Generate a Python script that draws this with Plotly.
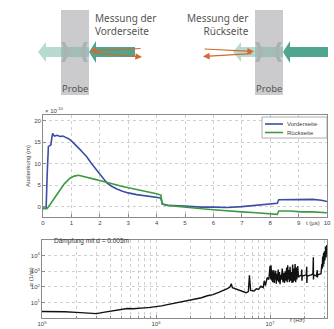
import plotly.graph_objects as go

# ---------------- data ----------------
t_vorder = [0, 0.11, 0.15, 0.19, 0.24, 0.28, 0.31, 0.34, 0.40, 0.50, 0.60, 0.70, 0.80, 0.90,
            1.00, 1.10, 1.20, 1.30, 1.40, 1.54, 1.70, 1.85, 2.00, 2.12, 2.25, 2.40, 2.60,
            2.80, 3.00, 3.30, 3.60, 3.90, 4.15, 4.20, 4.40, 4.80, 5.20, 5.60, 6.00, 6.50,
            7.00, 7.50, 8.00, 8.25, 8.30, 8.70, 9.10, 9.50, 9.80, 10.0]
v_vorder = [-0.4, -0.4, 8.0, 14.0, 14.2, 14.4, 16.0, 17.0, 16.4, 16.6, 16.3, 16.4, 16.1, 15.8,
            15.3, 14.7, 14.0, 13.3, 12.6, 11.6, 10.1, 8.8, 7.5, 6.5, 5.5, 4.8, 4.1,
            3.6, 3.2, 2.8, 2.5, 2.2, 2.0, 0.6, 0.3, 0.2, 0.0, -0.1, -0.1, -0.2,
            0.0, 0.3, 0.7, 0.8, 1.6, 1.6, 1.7, 1.7, 1.5, 1.2]

t_rueck = [0, 0.15, 0.25, 0.35, 0.48, 0.60, 0.75, 0.95, 1.10, 1.25, 1.40, 1.60, 1.80, 2.00,
           2.25, 2.50, 2.80, 3.10, 3.50, 3.80, 4.00, 4.15, 4.20, 4.40, 4.80, 5.20, 5.60, 6.00,
           6.50, 7.00, 7.50, 8.00, 8.25, 8.30, 8.70, 9.10, 9.50, 10.0]
v_rueck = [-0.4, -0.4, 0.5, 1.5, 2.7, 3.9, 5.3, 6.6, 7.1, 7.3, 7.1, 6.8, 6.4, 6.1,
           5.6, 5.2, 4.7, 4.3, 3.7, 3.3, 3.0, 2.7, 0.6, 0.3, 0.0, -0.3, -0.5, -0.7,
           -1.0, -1.2, -1.4, -1.6, -1.8, -1.0, -1.0, -1.2, -1.2, -1.4]

freq = [1.0e5, 1.26e5, 1.58e5, 2.0e5, 2.5e5, 3.0e5, 3.55e5, 4.2e5, 5.0e5, 5.6e5, 6.3e5,
        7.1e5, 7.9e5, 8.9e5, 1.0e6, 1.12e6, 1.26e6, 1.41e6, 1.58e6, 1.78e6, 2.0e6, 2.24e6,
        2.51e6, 2.82e6, 3.16e6, 3.55e6, 3.8e6, 3.98e6, 4.27e6, 4.47e6, 4.57e6, 4.68e6,
        5.0e6, 5.37e6, 5.75e6, 6.17e6, 6.46e6, 6.6e6, 6.76e6, 7.24e6, 7.59e6, 7.94e6,
        8.32e6, 8.71e6, 8.91e6, 9.12e6, 9.44e6, 9.77e6,
        1.000e7, 1.005e7, 1.010e7, 1.015e7, 1.020e7, 1.025e7, 1.030e7, 1.040e7, 1.045e7,
        1.055e7, 1.060e7, 1.070e7, 1.080e7, 1.090e7, 1.100e7, 1.110e7, 1.120e7, 1.135e7,
        1.150e7, 1.165e7, 1.180e7, 1.195e7, 1.210e7, 1.225e7, 1.240e7, 1.260e7, 1.280e7,
        1.300e7, 1.320e7, 1.340e7, 1.360e7, 1.380e7, 1.400e7, 1.415e7, 1.430e7, 1.445e7,
        1.460e7, 1.480e7, 1.500e7, 1.520e7, 1.540e7, 1.560e7, 1.580e7, 1.600e7, 1.620e7,
        1.640e7, 1.660e7, 1.680e7, 1.700e7, 1.720e7, 1.750e7, 1.780e7, 1.800e7, 1.880e7,
        1.900e7, 1.905e7, 1.920e7, 2.000e7, 2.080e7, 2.100e7, 2.105e7, 2.120e7, 2.300e7,
        2.380e7, 2.400e7, 2.405e7, 2.420e7, 2.550e7, 2.600e7, 2.605e7, 2.620e7, 2.800e7,
        2.850e7, 2.870e7, 2.900e7, 2.920e7, 2.950e7, 2.970e7, 3.000e7, 3.030e7, 3.080e7,
        3.100e7, 3.150e7]
alpha = [2.6, 2.6, 2.5, 2.3, 2.0, 1.9, 2.4, 3.0, 3.6, 4.1, 3.9,
         4.0, 4.5, 4.8, 5.3, 6.0, 7.3, 8.5, 10, 11.5, 14, 17,
         20, 27, 32, 45, 55, 60, 80, 100, 160, 90,
         75, 55, 48, 42, 50, 550, 60, 55, 75, 70,
         110, 90, 250, 120, 400, 300,
         2200, 400, 1800, 300, 2500, 500, 1500, 250, 1200,
         200, 900, 350, 1200, 180, 800, 300, 1100, 160,
         700, 250, 1300, 200, 900, 150, 600, 300, 1500,
         200, 800, 180, 1000, 250, 1800, 200, 2500, 300,
         1200, 200, 2000, 250, 900, 180, 2800, 200, 1500,
         250, 3000, 200, 1800, 300, 2200, 400, 500, 550,
         1300, 250, 500, 550, 600, 2000, 180, 500, 600,
         700, 8000, 300, 600, 500, 1200, 400, 600, 700,
         3000, 1500, 9000, 2000, 15000, 3000, 20000, 5000, 40000,
         8000, 50000]

x_ticks_t = [0, 1, 2, 3, 4, 5, 6, 7, 8, 9, 10]
y_ticks_a = [0, 5, 10, 15, 20]
y_ticks_alpha = [10, 100, 1000, 10000]
y_ticktext_alpha = ["10<sup>1</sup>", "10<sup>2</sup>", "10<sup>3</sup>", "10<sup>4</sup>"]
x_ticks_f = [1e5, 1e6, 1e7]
x_ticktext_f = ["10<sup>5</sup>", "10<sup>6</sup>", "10<sup>7</sup>"]

# ---------------- figure ----------------
W, H = 334, 329
def px(x):
    return x / W
def py(y):
    return 1 - y / H

FONT = "Liberation Sans"
GRID = "#d0d0d0"
LINE = "#8a8a8a"
TXT = "#444444"
BLUE = "#3b4ea6"
GREEN = "#3e9a40"

fig = go.Figure()
fig.add_trace(go.Scatter(x=t_vorder, y=v_vorder, mode="lines", name="Vorderseite",
                         line=dict(color=BLUE, width=1.6), xaxis="x", yaxis="y"))
fig.add_trace(go.Scatter(x=t_rueck, y=v_rueck, mode="lines", name="Rückseite",
                         line=dict(color=GREEN, width=1.6), xaxis="x", yaxis="y"))
fig.add_trace(go.Scatter(x=freq, y=alpha, mode="lines", name="alpha",
                         line=dict(color="#111111", width=1.4), xaxis="x2", yaxis="y2"))

common = dict(showline=True, mirror=True, linecolor=LINE, linewidth=0.8,
              ticks="inside", ticklen=3, tickcolor=LINE, tickwidth=0.8,
              showgrid=True, gridcolor=GRID, griddash="dot", gridwidth=0.8,
              zeroline=False, automargin=False,
              tickfont=dict(family=FONT, size=6, color=TXT))

fig.update_layout(
    template="none",
    width=W, height=H, margin=dict(l=0, r=0, t=0, b=0, autoexpand=False),
    paper_bgcolor="white", plot_bgcolor="white", showlegend=False,
    xaxis=dict(domain=[px(43), px(327)], range=[0, 10], anchor="y",
               tickvals=x_ticks_t, **common),
    yaxis=dict(domain=[py(217), py(115)], range=[-2.4, 21.3], anchor="x",
               tickvals=y_ticks_a, **common),
    xaxis2=dict(domain=[px(42), px(327)], type="log", range=[5, 7.5], anchor="y2",
                tickvals=x_ticks_f, ticktext=x_ticktext_f,
                minor=dict(dtick="D1", showgrid=True, gridcolor=GRID, griddash="dot",
                           gridwidth=0.7, ticks="inside", ticklen=2, tickcolor=LINE),
                **common),
    yaxis2=dict(domain=[py(318), py(240)], type="log", range=[0, 5.02], anchor="x2",
                tickvals=y_ticks_alpha, ticktext=y_ticktext_alpha, **common),
    xaxis3=dict(domain=[0, 1], range=[0, W], visible=False, anchor="y3", fixedrange=True),
    yaxis3=dict(domain=[py(95), 1], range=[95, 0], visible=False, anchor="x3", fixedrange=True),
)

shapes = []
ann = []

# --------- schematic (top) ---------
GRAY = "#cbcbcd"
TEAL = "#4fa58f"
LTEAL = "#b6dacf"
MIDT = "#a2bdb7"
CHEV = "#a9b3b4"
ORANGE = "#d2692f"
YC = 52

def arrow_left(xt, xb, xe, hh, sh, color):
    p = (f"M {xt},{YC} L {xb},{YC-hh} L {xb},{YC-sh} L {xe},{YC-sh} "
         f"L {xe},{YC+sh} L {xb},{YC+sh} L {xb},{YC+hh} Z")
    return dict(type="path", path=p, xref="x3", yref="y3", fillcolor=color,
                line=dict(width=0), layer="above")

for (r0, r1) in [(61, 89), (255, 283)]:
    shapes.append(dict(type="rect", x0=r0, x1=r1, y0=10, y1=95, xref="x3", yref="y3",
                       fillcolor=GRAY, line=dict(width=0), layer="above"))
    shapes.append(dict(type="rect", x0=r0, x1=r1, y0=YC-5, y1=YC+5, xref="x3", yref="y3",
                       fillcolor=MIDT, line=dict(width=0), layer="above"))
    for (a, d) in [(r0, 1), (r1 - 1, -1)]:
        p = (f"M {a},{YC-10} Q {a+6*d},{YC} {a},{YC+10} L {a+4*d},{YC+10} "
             f"Q {a+10*d},{YC} {a+4*d},{YC-10} Z")
        shapes.append(dict(type="path", path=p, xref="x3", yref="y3", fillcolor=CHEV,
                           line=dict(width=0), layer="above"))
    ann.append(dict(x=(r0 + r1) / 2, y=88, xref="x3", yref="y3", text="Probe",
                    showarrow=False, font=dict(family="Noto Sans", size=9.5, color="#555555")))

shapes.append(arrow_left(38, 46, 61, 10, 5, LTEAL))
shapes.append(arrow_left(89, 96, 135, 11, 5, TEAL))
shapes.append(arrow_left(233, 241, 255, 10, 5, LTEAL))
shapes.append(arrow_left(283, 290, 328, 11, 5, TEAL))

for (hx, hy, tx, ty) in [(90, 51, 142, 48.5), (142, 57, 93, 53),
                         (254, 51.5, 203, 49), (203, 56.5, 253, 53.5)]:
    ann.append(dict(x=hx, y=hy, ax=tx, ay=ty, xref="x3", yref="y3", axref="x3", ayref="y3",
                    text="", showarrow=True, arrowhead=2, arrowsize=1.2, arrowwidth=1.1,
                    arrowcolor=ORANGE))

ann.append(dict(x=93, y=9, xref="x3", yref="y3", text="Messung der<br>Vorderseite",
                xanchor="left", yanchor="top", align="left", showarrow=False,
                font=dict(family="Noto Sans", size=10, color="#555555")))
ann.append(dict(x=251, y=9, xref="x3", yref="y3", text="Messung der<br>Rückseite",
                xanchor="right", yanchor="top", align="right", showarrow=False,
                font=dict(family="Noto Sans", size=10, color="#555555")))

# --------- chart annotations ---------
small = dict(family=FONT, size=6, color=TXT)
ann.append(dict(x=px(43), y=py(110), xref="paper", yref="paper", text="× 10<sup>-10</sup>",
                xanchor="left", yanchor="middle", showarrow=False, font=small))
ann.append(dict(x=px(23), y=py(166), xref="paper", yref="paper", text="Auslenkung (m)",
                textangle=-90, showarrow=False, font=small))
ann.append(dict(x=px(304), y=py(228), xref="paper", yref="paper", text="t (µs)",
                xanchor="left", showarrow=False, font=small))
ann.append(dict(x=px(25), y=py(288), xref="paper", yref="paper", text="α (1/m)",
                textangle=-90, showarrow=False, font=small))
ann.append(dict(x=px(307), y=py(325), xref="paper", yref="paper", text="f (Hz)",
                showarrow=False, font=small))
ann.append(dict(x=px(52), y=py(247), xref="paper", yref="paper",
                text="Dämpfung mit d = 0.005m", xanchor="left", showarrow=False,
                font=dict(family=FONT, size=6.5, color="#333333")))

# legend (drawn manually)
shapes.append(dict(type="rect", x0=px(262), x1=px(327), y0=py(138), y1=py(117),
                   xref="paper", yref="paper", fillcolor="white",
                   line=dict(color="#999999", width=0.8)))
for (yy, col, label) in [(124, BLUE, "Vorderseite"), (132.5, GREEN, "Rückseite")]:
    shapes.append(dict(type="line", x0=px(265), x1=px(283), y0=py(yy), y1=py(yy),
                       xref="paper", yref="paper", line=dict(color=col, width=1.6)))
    ann.append(dict(x=px(285), y=py(yy), xref="paper", yref="paper", text=label,
                    xanchor="left", showarrow=False, font=small))

fig.update_layout(shapes=shapes, annotations=ann)
fig.write_html("out.html", config={"displayModeBar": False},
               post_script="document.body.style.margin='0';document.body.style.overflow='hidden';")
